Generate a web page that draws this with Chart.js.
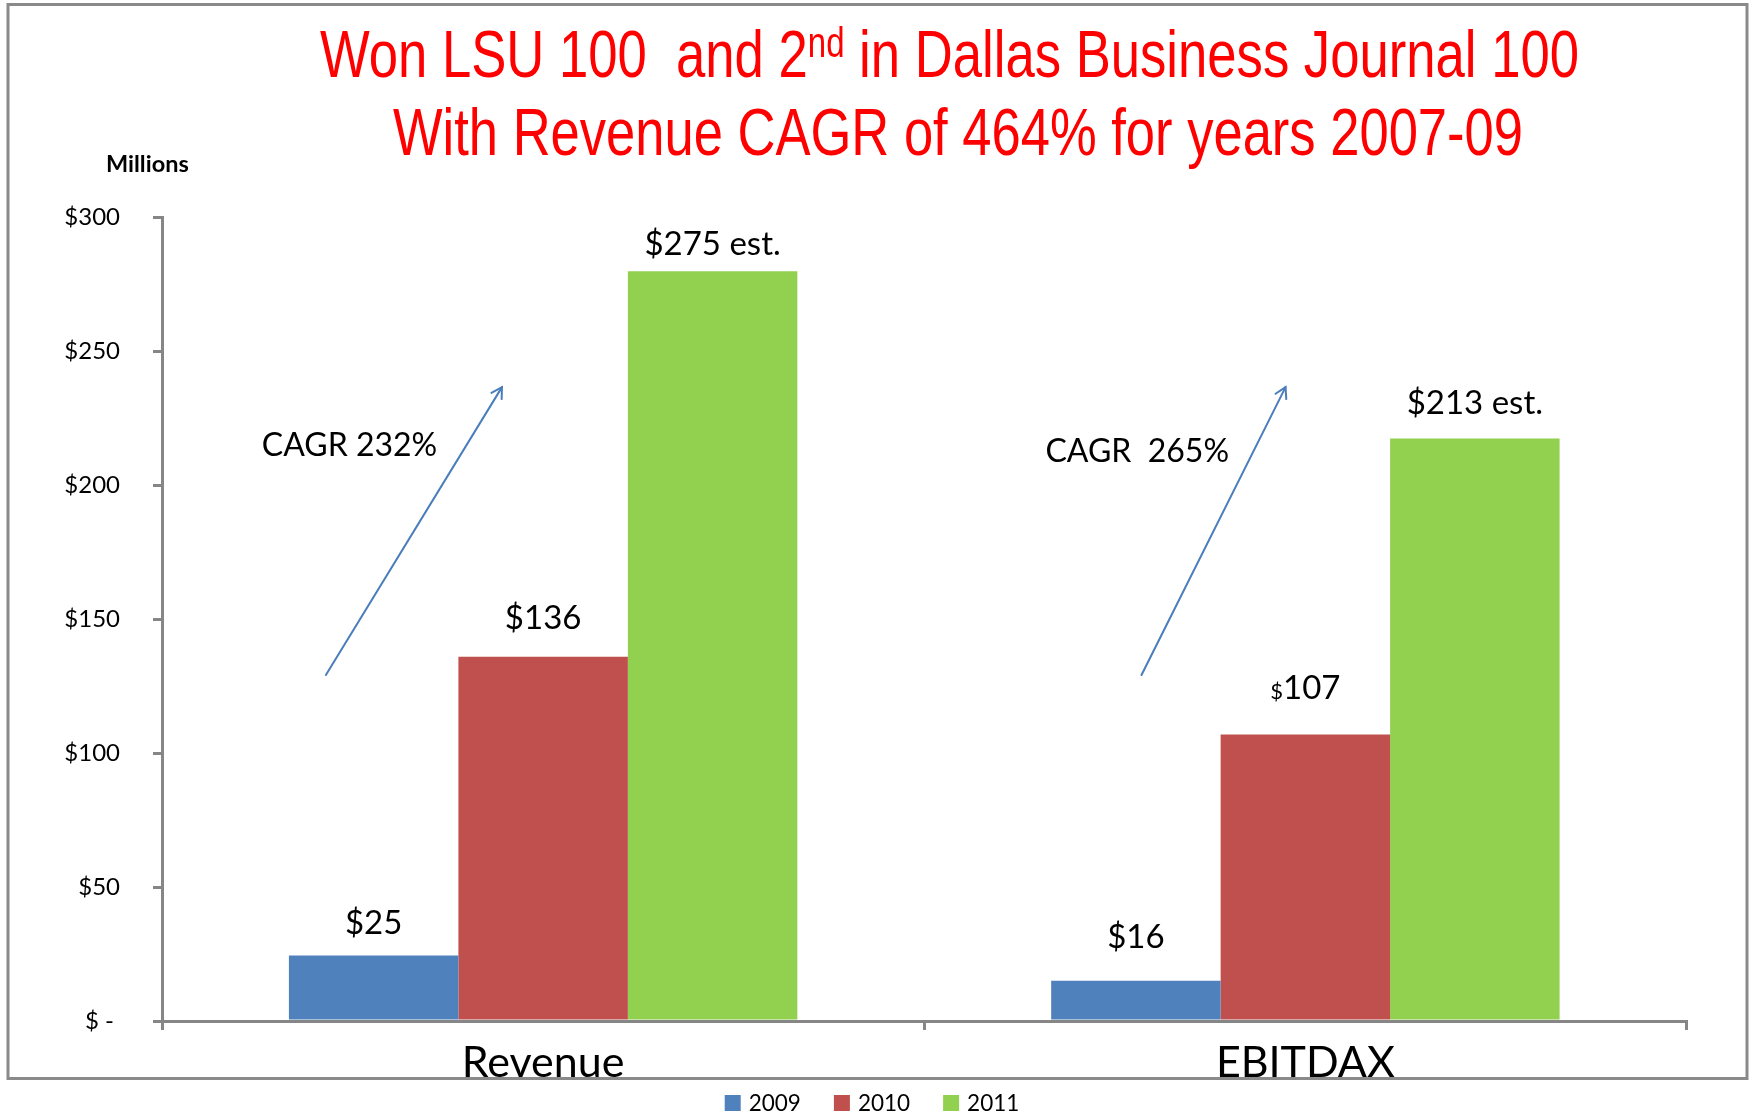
<!DOCTYPE html>
<html><head><meta charset="utf-8">
<script src="https://cdn.jsdelivr.net/npm/chart.js@4.4.1/dist/chart.umd.min.js"></script>
<style>html,body{margin:0;padding:0;background:#fff;} canvas{display:block;}</style>
</head><body>
<canvas id="c" width="1750" height="1113"></canvas>
<script>
// ---------- data ----------
const categories = ['Revenue', 'EBITDAX'];
const seriesNames = ['2009', '2010', '2011'];
const values2009 = [24.5, 15];
const values2010 = [136, 107];
const values2011 = [280, 217.5];
const valueLabels2009 = ['$25', '$16'];
const valueLabels2010 = ['$136', '$107'];
const valueLabels2011 = ['$275 est.', '$213 est.'];
const yTickValues = [0, 50, 100, 150, 200, 250, 300];
const titleLine1 = ['Won LSU 100  and 2', 'nd', ' in Dallas Business Journal 100'];
const titleLine2 = 'With Revenue CAGR of 464% for years 2007-09';
const unitLabel = 'Millions';
const cagrTexts = ['CAGR 232%', 'CAGR  265%'];
// annotation anchors in data space: [category index, value]
const cagrTextAnchors = [[-0.369, 215], [0.659, 212.5]];
const arrowStarts = [[-0.285, 129.2], [0.785, 129.2]];
const arrowEnds = [[-0.054, 236.7], [0.974, 236.7]];

// ---------- styles ----------
const seriesColors = ['#4f81bd', '#c0504d', '#92d050'];
const axisGray = '#868686';
const bodyFont = 'Lato, Carlito, "Open Sans", sans-serif';
const titleFont = '"Liberation Sans Narrow", "Liberation Sans", Arial, sans-serif';
const labelGaps = [[32, 43], [38, 47], [27, 35]];
const smallDollar = [[false, false], [false, true], [false, false]];

const valueLabels = [valueLabels2009, valueLabels2010, valueLabels2011];

function drawFittedLine(ctx, pieces, left, baseline, targetWidth) {
  let total = 0;
  pieces.forEach(p => { ctx.font = p.size + 'px ' + titleFont; p.w = ctx.measureText(p.text).width; total += p.w; });
  const sx = targetWidth / total;
  ctx.save();
  ctx.translate(left, baseline);
  ctx.scale(sx, 1);
  ctx.textAlign = 'left';
  ctx.textBaseline = 'alphabetic';
  let x = 0;
  pieces.forEach(p => {
    ctx.font = p.size + 'px ' + titleFont;
    ctx.fillText(p.text, x, -(p.rise || 0));
    x += p.w;
  });
  ctx.restore();
}

const decorPlugin = {
  id: 'decor',
  beforeDraw(chart) {
    const ctx = chart.ctx;
    ctx.save();
    ctx.fillStyle = '#fff';
    ctx.fillRect(0, 0, chart.width, chart.height);
    ctx.restore();
  },
  afterDatasetsDraw(chart) {
    const ctx = chart.ctx;
    const xs = chart.scales.x, ys = chart.scales.y;
    ctx.save();
    // value labels
    ctx.fillStyle = '#000';
    ctx.textBaseline = 'middle';
    chart.data.datasets.forEach((ds, di) => {
      const meta = chart.getDatasetMeta(di);
      meta.data.forEach((bar, ci) => {
        const txt = valueLabels[di][ci];
        const cy = bar.y - labelGaps[di][ci];
        if (smallDollar[di][ci]) {
          ctx.textBaseline = 'alphabetic';
          ctx.font = '22px ' + bodyFont;
          const w1 = ctx.measureText('$').width;
          ctx.font = '33px ' + bodyFont;
          const w2 = ctx.measureText(txt.slice(1)).width;
          const left = bar.x - (w1 + w2) / 2;
          const base = cy + 33 * 0.358;
          ctx.textAlign = 'left';
          ctx.font = '22px ' + bodyFont;
          ctx.fillText('$', left, base);
          ctx.font = '33px ' + bodyFont;
          ctx.fillText(txt.slice(1), left + w1, base);
          ctx.textBaseline = 'middle';
        } else {
          ctx.font = '33px ' + bodyFont;
          ctx.textAlign = 'center';
          ctx.fillText(txt, bar.x, cy);
        }
      });
    });
    // CAGR texts
    ctx.font = '32px ' + bodyFont;
    ctx.textAlign = 'left';
    ctx.textBaseline = 'middle';
    cagrTexts.forEach((t, i) => {
      ctx.fillText(t, xs.getPixelForValue(cagrTextAnchors[i][0]), ys.getPixelForValue(cagrTextAnchors[i][1]));
    });
    // arrows
    ctx.strokeStyle = '#4a7ebb';
    ctx.lineWidth = 2;
    ctx.lineCap = 'round';
    arrowStarts.forEach((s, i) => {
      const x0 = xs.getPixelForValue(s[0]), y0 = ys.getPixelForValue(s[1]);
      const x1 = xs.getPixelForValue(arrowEnds[i][0]), y1 = ys.getPixelForValue(arrowEnds[i][1]);
      ctx.beginPath(); ctx.moveTo(x0, y0); ctx.lineTo(x1, y1); ctx.stroke();
      const a = Math.atan2(y1 - y0, x1 - x0), L = 12, sp = Math.PI / 6;
      ctx.beginPath();
      ctx.moveTo(x1 - L * Math.cos(a - sp), y1 - L * Math.sin(a - sp));
      ctx.lineTo(x1, y1);
      ctx.lineTo(x1 - L * Math.cos(a + sp), y1 - L * Math.sin(a + sp));
      ctx.stroke();
    });
    ctx.restore();
  },
  afterDraw(chart) {
    const ctx = chart.ctx;
    ctx.save();
    // outer frame
    ctx.strokeStyle = '#8a8a8a';
    ctx.lineWidth = 3;
    ctx.strokeRect(8, 4.5, 1739, 1074);
    // title
    ctx.fillStyle = '#ff0000';
    drawFittedLine(ctx, [
      {text: titleLine1[0], size: 67},
      {text: titleLine1[1], size: 42, rise: 20},
      {text: titleLine1[2], size: 67}
    ], 320, 77, 1259);
    drawFittedLine(ctx, [{text: titleLine2, size: 67}], 393, 155, 1130);
    // unit label
    ctx.fillStyle = '#000';
    ctx.font = 'bold 23.5px ' + bodyFont;
    ctx.textAlign = 'left';
    ctx.textBaseline = 'alphabetic';
    ctx.fillText(unitLabel, 106, 172);
    // legend
    ctx.font = '22.5px ' + bodyFont;
    ctx.textBaseline = 'middle';
    const box = 16, gap = 8, itemGap = 33;
    const items = chart.data.datasets.map(ds => ({text: ds.label, color: ds.backgroundColor, w: ctx.measureText(ds.label).width}));
    let total = items.reduce((s, it) => s + box + gap + it.w, 0) + itemGap * (items.length - 1);
    let x = 872 - total / 2;
    const cy = 1103;
    items.forEach(it => {
      ctx.fillStyle = it.color;
      ctx.fillRect(x, cy - box / 2, box, box);
      ctx.fillStyle = '#000';
      ctx.fillText(it.text, x + box + gap, cy + 1);
      x += box + gap + it.w + itemGap;
    });
    ctx.restore();
  }
};

const datasets = [values2009, values2010, values2011].map((vals, i) => ({
  label: seriesNames[i],
  data: vals,
  backgroundColor: seriesColors[i],
  borderWidth: 0,
  barPercentage: 1,
  categoryPercentage: 0.667
}));

new Chart(document.getElementById('c'), {
  type: 'bar',
  data: { labels: categories, datasets },
  plugins: [decorPlugin],
  options: {
    responsive: false,
    animation: false,
    devicePixelRatio: 1,
    layout: { padding: { left: 0, right: 63.5, top: 217.6, bottom: 0 } },
    plugins: { legend: { display: false }, title: { display: false }, tooltip: { enabled: false } },
    scales: {
      x: {
        offset: true,
        grid: { display: true, drawOnChartArea: false, drawTicks: true, tickLength: 9, color: axisGray, lineWidth: 3, offset: true },
        border: { display: true, color: axisGray, width: 3 },
        ticks: { font: { family: bodyFont, size: 43 }, color: '#000', padding: 7, maxRotation: 0 },
        afterFit: s => { s.height = 92; }
      },
      y: {
        min: 0, max: 300,
        afterBuildTicks: s => { s.ticks = yTickValues.map(v => ({ value: v })); },
        ticks: {
          font: { family: bodyFont, size: 24 }, color: '#000', padding: 33,
          callback: v => v === 0 ? '$ - ' : '$' + v
        },
        grid: { display: true, drawOnChartArea: false, drawTicks: true, tickLength: 9, color: axisGray, lineWidth: 3 },
        border: { display: true, color: axisGray, width: 3 },
        afterFit: s => { s.width = 162; }
      }
    }
  }
});
</script>
</body></html>
